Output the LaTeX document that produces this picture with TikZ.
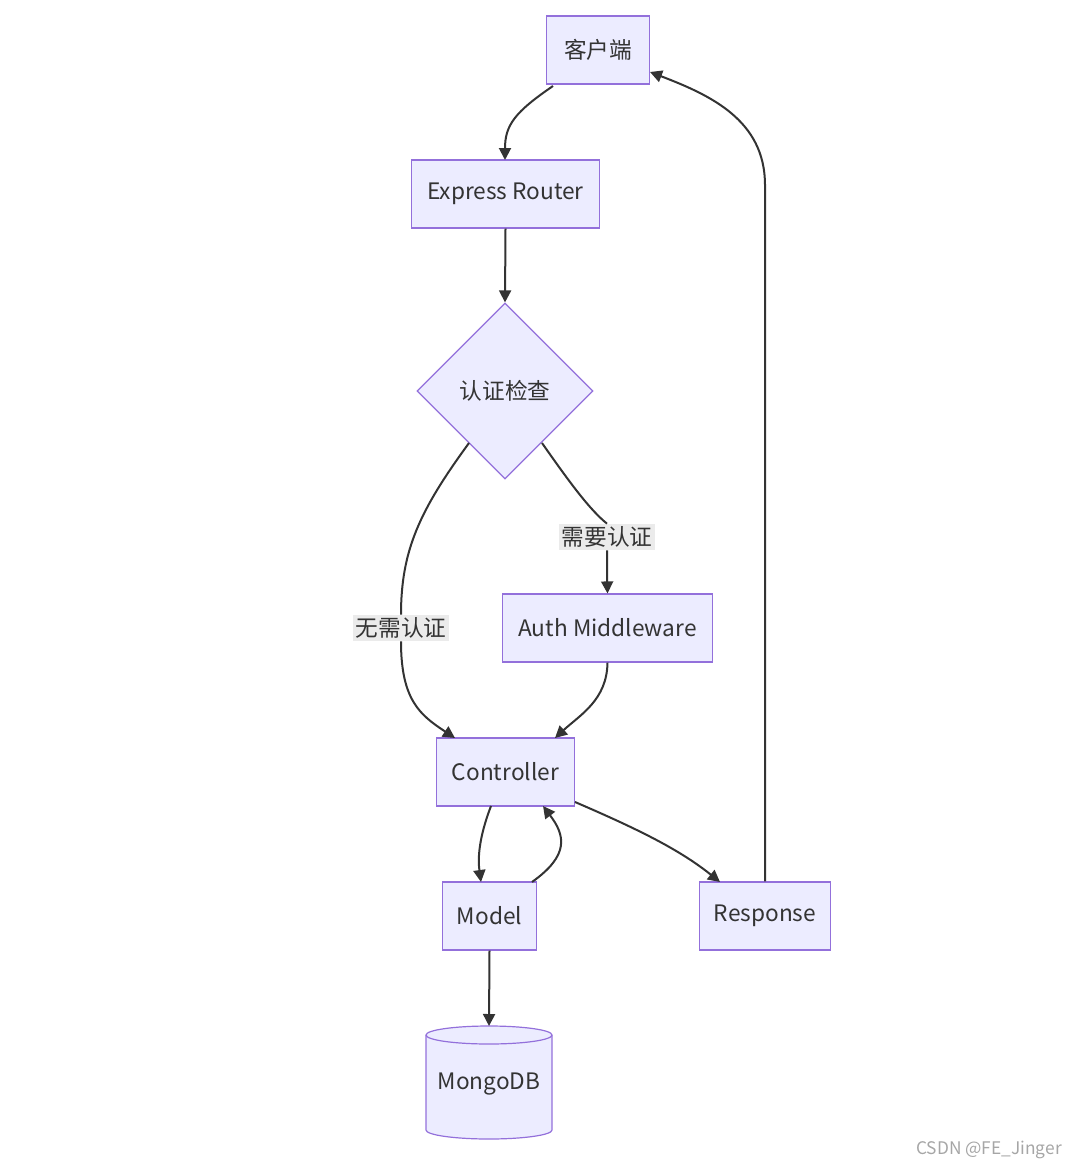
\documentclass[tikz,border=0pt]{standalone}
\usepackage{fontspec}
\setmainfont{Noto Sans CJK SC}
\usetikzlibrary{shapes.geometric,arrows.meta}
\definecolor{nfill}{HTML}{ECECFF}
\definecolor{nbord}{HTML}{9370DB}
\definecolor{ln}{HTML}{333333}
\begin{document}
\begin{tikzpicture}[x=0.75pt,y=-0.75pt,
  box/.style={draw=nbord,fill=nfill,line width=0.9pt,minimum height=51pt,inner xsep=11pt,font=\fontsize{17pt}{19pt}\selectfont,text=ln},
  lab/.style={fill=black!8,inner sep=2pt,font=\fontsize{17pt}{19pt}\selectfont,text=ln},
  ar/.style={draw=ln,line width=1.5pt,-{Triangle[length=9pt,width=9pt]}}]
\useasboundingbox (0,0) rectangle (1074,1167);
\node[box,minimum width=77pt] (c) at (598,50) {客户端};
\node[box,minimum width=141pt] (r) at (505.5,194) {Express Router};
\node[diamond,draw=nbord,fill=nfill,line width=0.9pt,minimum width=132pt,minimum height=132pt,inner sep=0pt,font=\fontsize{17pt}{19pt}\selectfont,text=ln] (d) at (505,391) {认证检查};
\node[box,minimum width=158pt] (a) at (607.5,628) {Auth Middleware};
\node[box,minimum width=104pt] (k) at (505.5,772) {Controller};
\node[box,minimum width=70pt] (m) at (489.5,916) {Model};
\node[box,minimum width=96pt] (s) at (765,916) {Response};
% cylinder
\draw[draw=nbord,fill=nfill,line width=0.9pt] (426,1035) -- (426,1130) arc[start angle=180,end angle=0,x radius=63,y radius=9] -- (552,1035) arc[start angle=0,end angle=-180,x radius=63,y radius=9] -- cycle;
\draw[draw=nbord,line width=0.9pt] (426,1035) arc[start angle=180,end angle=360,x radius=63,y radius=-9];
\node[font=\fontsize{17pt}{19pt}\selectfont,text=ln] (g) at (489,1084) {MongoDB};
\coordinate (gt) at (489,1026);
\node[lab] (l1) at (607,537) {需要认证};
\node[lab] (l2) at (401,628) {无需认证};
\node[text=black!35,font=\fontsize{13pt}{15pt}\selectfont] (w) at (989,1150) {CSDN @FE\_Jinger};
\coordinate (c1) at (553,86);
\coordinate (c2) at (505,160);
\draw[ar] (c1) .. controls (515,112) and (505,125) .. (c2);
\draw[ar] (r.south) -- (d.north);
\coordinate (d1) at (542,443);
\coordinate (d2) at (469,443);
\draw[line width=1.5pt,ln] (d1) .. controls (570,483) and (590,510) .. (l1.north);
\draw[ar] (l1.south) .. controls (607,565) and (607,575) .. (a.north);
\draw[line width=1.5pt,ln] (d2) .. controls (420,510) and (401,550) .. (l2.north);
\draw[ar] (l2.south) .. controls (401,700) and (420,715) .. (455,738);
\draw[ar] (a.south) .. controls (607,700) and (580,715) .. (555,738);
\draw[ar] (491,806) .. controls (478,840) and (478,860) .. (481,882);
\draw[ar] (532,882) .. controls (570,855) and (565,835) .. (543,806);
\draw[ar] (575,802) .. controls (640,830) and (680,850) .. (720,882);
\draw[ar] (s.north) -- (765,185) .. controls (765,120) and (710,95) .. (650,72);
\draw[ar] (m.south) -- (gt);
\end{tikzpicture}
\end{document}
